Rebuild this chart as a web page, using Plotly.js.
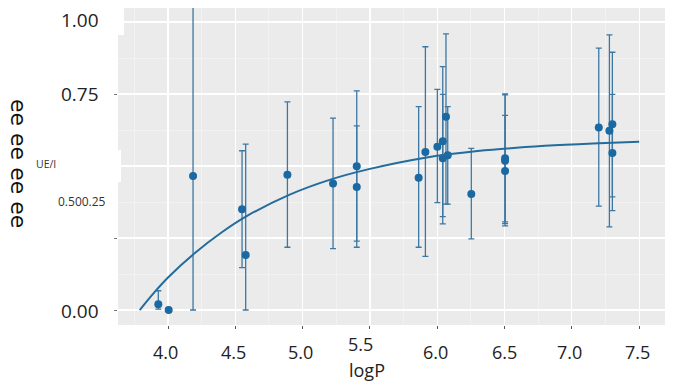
<!DOCTYPE html>
<html>
<head>
<meta charset="utf-8">
<script src="https://cdn.plot.ly/plotly-3.0.1.min.js"></script>
<style>html,body{margin:0;padding:0;background:#fff;}#chart{width:673px;height:387px;}</style>
</head>
<body>
<div id="chart"></div>
<script>
// Observed points (logP, UE/I) with error bar bounds
const logP  = [3.928, 4.005, 4.186, 4.550, 4.577, 4.887, 5.226, 5.402, 5.402, 5.862, 5.912, 6.001, 6.041, 6.041, 6.065, 6.078, 6.253, 6.504, 6.504, 6.504, 7.200, 7.279, 7.301, 7.301];
const ueI   = [0.020, 0.000, 0.465, 0.350, 0.191, 0.470, 0.439, 0.499, 0.427, 0.459, 0.549, 0.567, 0.586, 0.527, 0.671, 0.537, 0.403, 0.527, 0.518, 0.483, 0.634, 0.622, 0.645, 0.545];
const upper = [0.067, 0.000, 1.150, 0.553, 0.576, 0.723, 0.666, 0.761, 0.639, 0.706, 0.914, 0.766, 0.845, 0.749, 0.959, 0.706, 0.561, 0.750, 0.747, 0.676, 0.909, 0.955, 0.895, 0.749];
const lower = [0.003, 0.000, 0.000, 0.147, 0.000, 0.218, 0.213, 0.218, 0.239, 0.218, 0.186, 0.373, 0.299, 0.324, 0.368, 0.368, 0.247, 0.306, 0.292, 0.300, 0.361, 0.289, 0.393, 0.345];

// Fitted curve
const fitX = [3.79, 3.90, 4.00, 4.20, 4.40, 4.60, 4.90, 5.20, 5.50, 5.90, 6.30, 6.80, 7.20, 7.50];
const fitY = [0.000, 0.062, 0.113, 0.198, 0.270, 0.330, 0.400, 0.452, 0.490, 0.528, 0.552, 0.570, 0.579, 0.584];

const xTicks = [4.0, 4.5, 5.0, 5.5, 6.0, 6.5, 7.0, 7.5];
const xTickText = ['4.0', '4.5', '5.0', '5.5', '6.0', '6.5', '7.0', '7.5'];
const yTicks = [0, 0.25, 0.5, 0.75, 1.0];
const yLabelText = ['1.00', '0.75', '0.500.25', '0.00'];
const yTitleText = 'ee ee ee ee';
const yUnitText = 'UE/I';
const xTitleText = 'logP';

const errPlus = upper.map((u, i) => u - ueI[i]);
const errMinus = ueI.map((v, i) => v - lower[i]);

const W = 673, H = 387;
const L = 118, R = 8, T = 8, B = 62;
const pw = W - L - R, ph = H - T - B;
const px = x => (x - L) / pw;
const py = y => (H - B - y) / ph;

const traces = [
  {
    x: logP, y: ueI, type: 'scatter', mode: 'markers',
    marker: {color: '#1a69a2', size: 8},
    error_y: {type: 'data', symmetric: false, array: errPlus, arrayminus: errMinus,
              color: '#3d78a3', thickness: 1.3, width: 3},
    hoverinfo: 'skip', showlegend: false
  },
  {
    x: fitX, y: fitY, type: 'scatter', mode: 'lines',
    line: {color: '#236c9c', width: 2, shape: 'spline', smoothing: 1},
    hoverinfo: 'skip', showlegend: false
  }
];

const fnt = 'Open Sans, Noto Sans, sans-serif';
const annotations = [
  {text: yLabelText[0], xref: 'paper', yref: 'paper', x: px(101), y: py(20), xanchor: 'right', yanchor: 'middle', showarrow: false, font: {family: fnt, size: 19, color: '#222'}},
  {text: yLabelText[1], xref: 'paper', yref: 'paper', x: px(101), y: py(94), xanchor: 'right', yanchor: 'middle', showarrow: false, font: {family: fnt, size: 19, color: '#222'}},
  {text: yLabelText[2], xref: 'paper', yref: 'paper', x: px(108), y: py(201), xanchor: 'right', yanchor: 'middle', showarrow: false, font: {family: fnt, size: 12, color: '#333'}},
  {text: yLabelText[3], xref: 'paper', yref: 'paper', x: px(101), y: py(311), xanchor: 'right', yanchor: 'middle', showarrow: false, font: {family: fnt, size: 19, color: '#222'}},
  {text: yUnitText, xref: 'paper', yref: 'paper', x: px(34), y: py(164), xanchor: 'left', yanchor: 'middle', showarrow: false, font: {family: fnt, size: 10.5, color: '#333'}},
  {text: yTitleText, xref: 'paper', yref: 'paper', x: px(19), y: py(163), xanchor: 'center', yanchor: 'middle', textangle: 90, showarrow: false, font: {family: 'DejaVu Sans, sans-serif', size: 22, color: '#111'}},
  {text: xTitleText, xref: 'paper', yref: 'paper', x: px(367), y: py(370), xanchor: 'center', yanchor: 'middle', showarrow: false, font: {family: fnt, size: 18, color: '#222'}}
];
// x tick labels, slightly irregular placement as in the reference
const tickShiftX = [-3, -2, -2, -9, -2, 0, -2, -2];
const tickPy = [351.5, 351.5, 351.5, 344, 351.5, 351.5, 351.5, 351.5];
xTicks.forEach((v, i) => {
  annotations.push({text: xTickText[i], xref: 'x', yref: 'paper', x: v, y: py(tickPy[i]), xshift: tickShiftX[i],
    xanchor: 'center', yanchor: 'middle', showarrow: false, font: {family: fnt, size: 18, color: '#222'}});
});

const layout = {
  width: W, height: H,
  margin: {l: L, r: R, t: T, b: B, pad: 0},
  paper_bgcolor: '#ffffff',
  plot_bgcolor: '#ebebeb',
  showlegend: false,
  xaxis: {
    range: [3.6285, 7.692], tickvals: xTicks, showticklabels: false,
    showgrid: true, gridcolor: '#ffffff', gridwidth: 1.3, zeroline: false, showline: false,
    ticks: 'outside', ticklen: 3, tickcolor: '#555', tickwidth: 1,
    minor: {dtick: 0.5, tick0: 3.75, showgrid: true, gridcolor: '#f7f7f7', gridwidth: 0.6, ticks: ''}
  },
  yaxis: {
    range: [-0.052, 1.0486], tickvals: yTicks, showticklabels: false,
    showgrid: true, gridcolor: '#ffffff', gridwidth: 1.3, zeroline: false, showline: false,
    ticks: 'outside', ticklen: 3, tickcolor: '#777', tickwidth: 1,
    minor: {dtick: 0.25, tick0: 0.125, showgrid: true, gridcolor: '#f7f7f7', gridwidth: 0.6, ticks: ''}
  },
  annotations: annotations,
  shapes: [
    {type: 'rect', xref: 'paper', yref: 'paper', x0: px(112), x1: px(124), y0: py(35), y1: py(6), fillcolor: '#ffffff', line: {width: 0}, layer: 'above'},
    {type: 'rect', xref: 'paper', yref: 'paper', x0: px(110), x1: px(121), y0: py(182), y1: py(150), fillcolor: '#ffffff', line: {width: 0}, layer: 'above'}
  ]
};

Plotly.newPlot('chart', traces, layout, {staticPlot: true, displayModeBar: false});
</script>
</body>
</html>
